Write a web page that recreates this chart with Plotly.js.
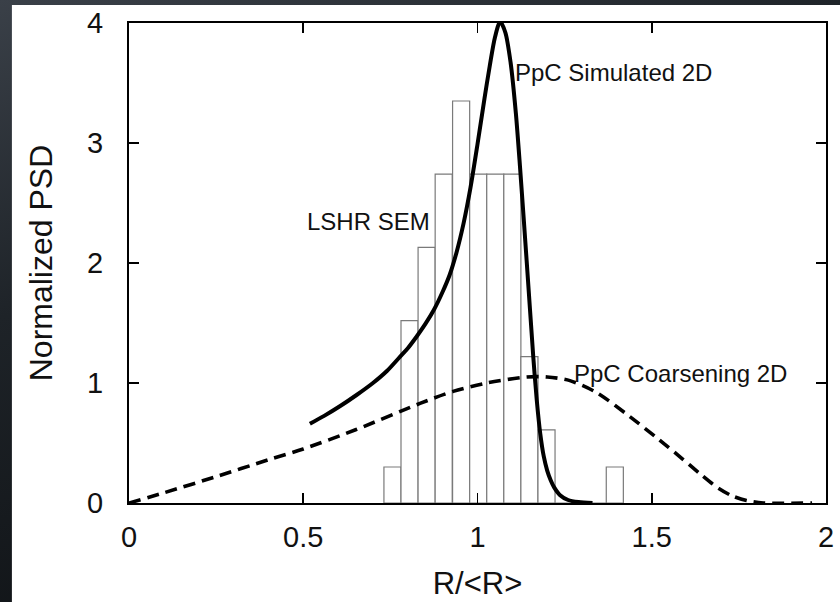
<!DOCTYPE html>
<html>
<head>
<meta charset="utf-8">
<script src="https://cdn.plot.ly/plotly-3.0.1.min.js"></script>
<style>
  html, body { margin: 0; padding: 0; }
  body { width: 840px; height: 602px; overflow: hidden;
         background: linear-gradient(160deg, #3a4048 0%, #1e2328 35%, #07090b 100%); }
  #chart { width: 840px; height: 602px; }
</style>
</head>
<body>
<div id="chart"></div>
<script>
// Histogram (LSHR SEM)
const binCenters = [0.756, 0.805, 0.854, 0.903, 0.953, 1.002, 1.051, 1.100, 1.149, 1.198, 1.247, 1.296, 1.345, 1.394];
const binValues  = [0.30, 1.52, 2.13, 2.74, 3.35, 2.74, 2.74, 2.74, 1.22, 0.61, 0, 0, 0, 0.30];
const binWidth = 0.049;

// PpC Simulated 2D (solid)
const simX = [0.519, 0.56, 0.605, 0.653, 0.70, 0.74, 0.778, 0.80, 0.826, 0.85, 0.875, 0.90, 0.92, 0.94, 0.96, 0.98, 1.00, 1.02, 1.035, 1.05, 1.065,
              1.08, 1.095, 1.11, 1.122, 1.141, 1.16, 1.17, 1.18, 1.19, 1.20, 1.21, 1.22, 1.237, 1.26, 1.29, 1.33];
const simY = [0.66, 0.726, 0.806, 0.90, 1.00, 1.10, 1.22, 1.29, 1.39, 1.49, 1.61, 1.76, 1.90, 2.09, 2.33, 2.63, 2.99, 3.37, 3.64, 3.88, 4.01,
              3.92, 3.67, 3.25, 2.80, 2.02, 1.22, 0.86, 0.58, 0.39, 0.27, 0.19, 0.13, 0.065, 0.025, 0.008, 0.0];

// PpC Coarsening 2D (dashed)
const coarX = [0, 0.1, 0.25, 0.4, 0.5, 0.65, 0.835, 0.93, 1.026, 1.141, 1.2, 1.265, 1.342, 1.437, 1.52, 1.581, 1.64, 1.686, 1.73, 1.772, 1.82, 1.96];
const coarY = [0, 0.085, 0.22, 0.36, 0.45, 0.61, 0.83, 0.93, 1.0, 1.05, 1.05, 1.02, 0.92, 0.72, 0.53, 0.385, 0.24, 0.134, 0.06, 0.02, 0.0, 0.0];

const xTicks = [0, 0.5, 1, 1.5, 2];
const xTickLabels = ['0', '0.5', '1', '1.5', '2'];
const yTicks = [0, 1, 2, 3, 4];
const yTickLabels = ['0', '1', '2', '3', '4'];

const FONT = 'Liberation Sans, Arial, sans-serif';

const traces = [
  {
    type: 'bar', x: binCenters, y: binValues, width: binWidth,
    marker: { color: 'white', line: { color: '#7a7a7a', width: 1.2 } },
    hoverinfo: 'skip', showlegend: false
  },
  {
    type: 'scatter', mode: 'lines', x: coarX, y: coarY,
    line: { color: 'black', width: 3.6, dash: '12px,7px', shape: 'spline', smoothing: 0.8 },
    showlegend: false
  },
  {
    type: 'scatter', mode: 'lines', x: simX, y: simY,
    line: { color: 'black', width: 4, shape: 'spline', smoothing: 0.8 },
    showlegend: false
  }
];

const layout = {
  width: 840, height: 602,
  margin: { l: 129, r: 14, t: 23, b: 99 },
  paper_bgcolor: 'rgba(0,0,0,0)',
  plot_bgcolor: 'white',
  font: { family: FONT, color: '#111' },
  bargap: 0,
  xaxis: {
    range: [0, 2], tickvals: xTicks, ticktext: xTickLabels,
    ticks: 'inside', ticklen: 10, tickwidth: 1.8, tickcolor: 'black',
    showline: true, linecolor: 'black', linewidth: 2, mirror: 'ticks',
    showgrid: false, zeroline: false,
    tickfont: { size: 29, family: FONT, color: '#111' },
    ticklabelstandoff: 7,
    title: { text: 'R/&lt;R&gt;', font: { size: 31, family: FONT, color: '#111' }, standoff: 21 }
  },
  yaxis: {
    range: [0, 4], tickvals: yTicks, ticktext: yTickLabels,
    ticks: 'inside', ticklen: 10, tickwidth: 1.8, tickcolor: 'black',
    showline: true, linecolor: 'black', linewidth: 2, mirror: 'ticks',
    showgrid: false, zeroline: false,
    tickfont: { size: 29, family: FONT, color: '#111' },
    ticklabelstandoff: 18,
    title: { text: 'Normalized PSD', font: { size: 32, family: FONT, color: '#111' }, standoff: 25 }
  },
  shapes: [
    { type: 'rect', xref: 'paper', yref: 'paper', layer: 'below',
      x0: -0.168, x1: 1.03, y0: -0.21, y1: 1.0375,
      fillcolor: 'white', line: { width: 0 } }
  ],
  annotations: [
    { x: 1.102, y: 3.585, xref: 'x', yref: 'y', text: 'PpC Simulated 2D', showarrow: false,
      xanchor: 'left', yanchor: 'middle', font: { size: 24, family: FONT, color: '#111' } },
    { x: 0.505, y: 2.35, xref: 'x', yref: 'y', text: 'LSHR SEM', showarrow: false,
      xanchor: 'left', yanchor: 'middle', font: { size: 24, family: FONT, color: '#111' } },
    { x: 1.27, y: 1.08, xref: 'x', yref: 'y', text: 'PpC Coarsening 2D', showarrow: false,
      xanchor: 'left', yanchor: 'middle', font: { size: 24, family: FONT, color: '#111' } }
  ]
};

Plotly.newPlot('chart', traces, layout, { displayModeBar: false, staticPlot: true });
</script>
</body>
</html>
